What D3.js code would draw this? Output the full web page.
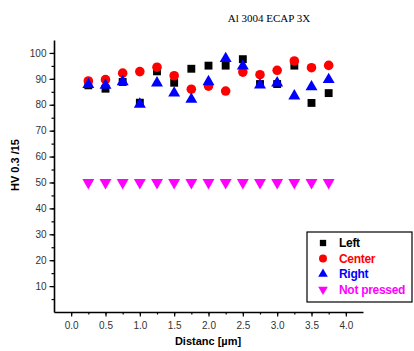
<!DOCTYPE html>
<html>
<head>
<meta charset="utf-8">
<script src="https://cdn.jsdelivr.net/npm/d3@7"></script>
<style>
  body { margin: 0; background: #fff; }
  svg { display: block; font-family: "Liberation Sans", Arial, sans-serif; }
</style>
</head>
<body>
<svg id="chart"></svg>
<script>
// distance positions (µm)
const distances = [0.25, 0.5, 0.75, 1.0, 1.25, 1.5, 1.75, 2.0, 2.25, 2.5, 2.75, 3.0, 3.25, 3.5, 3.75];

// hardness values
const leftVals = [87.5, 86.2, 88.8, 80.8, 92.9, 88.5, 93.9, 95.1, 95.1, 97.6, 88.0, 88.0, 95.1, 80.7, 84.5];
const centerVals = [89.2, 89.7, 92.2, 92.8, 94.5, 91.2, 86.0, 87.2, 85.3, 92.6, 91.6, 93.3, 96.9, 94.3, 95.2];
const rightVals = [87.8, 87.5, 88.9, 80.2, 88.4, 84.5, 82.1, 88.9, 97.8, 94.9, 87.6, 88.4, 83.4, 86.9, 89.7];
const notPressedVals = [50, 50, 50, 50, 50, 50, 50, 50, 50, 50, 50, 50, 50, 50, 50];

const xTicks = [0.0, 0.5, 1.0, 1.5, 2.0, 2.5, 3.0, 3.5, 4.0];
const yTicks = [10, 20, 30, 40, 50, 60, 70, 80, 90, 100];

const seriesNames = ["Left", "Center", "Right", "Not pressed"];
const seriesColors = ["#000000", "#ff0000", "#0000ff", "#ff00ff"];
const seriesSymbols = [d3.symbolSquare, d3.symbolCircle, d3.symbolTriangle, d3.symbolTriangle];

const series = [leftVals, centerVals, rightVals, notPressedVals].map((vals, i) => ({
	name: seriesNames[i],
	color: seriesColors[i],
	symbol: seriesSymbols[i],
	flip: i === 3,
	values: vals.map((v, j) => ({ x: distances[j], y: v }))
}));

const W = 414, H = 351;
const margin = { top: 40, right: 51, bottom: 39, left: 54 };
const width = W - margin.left - margin.right,
	height = H - margin.top - margin.bottom;

const svg = d3.select("#chart")
	.attr("width", W)
	.attr("height", H);

const g = svg.append("g")
	.attr("transform", `translate(${margin.left}, ${margin.top})`);

const x = d3.scaleLinear().domain([-0.25, 4.25]).range([0, width]);
const y = d3.scaleLinear().domain([0, 105]).range([height, 0]);

// minor ticks first
g.append("g")
	.attr("transform", `translate(0, ${height})`)
	.call(d3.axisBottom(x).tickValues(d3.range(0, 4.01, 0.25)).tickSize(2.5).tickFormat(""))
	.call(a => a.select(".domain").remove());
g.append("g")
	.call(d3.axisLeft(y).tickValues(d3.range(5, 101, 5)).tickSize(2.5).tickFormat(""))
	.call(a => a.select(".domain").remove());

// X axis
const xAxis = g.append("g")
	.attr("transform", `translate(0, ${height})`)
	.call(d3.axisBottom(x).tickValues(xTicks).tickSize(4.5).tickSizeOuter(0).tickPadding(5).tickFormat(d3.format(".1f")));
xAxis.selectAll("text").attr("font-size", 10).attr("fill", "#333");

// Y axis
const yAxis = g.append("g")
	.call(d3.axisLeft(y).tickValues(yTicks).tickSize(4.5).tickSizeOuter(0).tickPadding(3));
yAxis.selectAll("text").attr("font-size", 10).attr("fill", "#333");

g.selectAll(".domain").attr("stroke-width", 1.6).attr("stroke", "#000");
g.selectAll(".tick line").attr("stroke", "#000").attr("stroke-width", 1.2);

// markers
series.forEach(s => {
	const sym = d3.symbol().type(s.symbol).size(s.symbol === d3.symbolCircle ? 72 : 62);
	g.append("g")
		.selectAll("path")
		.data(s.values)
		.join("path")
		.attr("d", sym)
		.attr("transform", d => `translate(${x(d.x)}, ${y(d.y)})` + (s.flip ? " rotate(180)" : ""))
		.attr("fill", s.color);
});

// title
svg.append("text")
	.attr("x", 269)
	.attr("y", 22)
	.attr("text-anchor", "middle")
	.attr("font-family", "'Liberation Serif', 'Times New Roman', serif")
	.attr("font-size", 11)
	.text("Al 3004 ECAP 3X");

// axis titles
svg.append("text")
	.attr("x", 208)
	.attr("y", 345)
	.attr("text-anchor", "middle")
	.attr("font-size", 11)
	.attr("font-weight", "bold")
	.text("Distanc [µm]");

svg.append("text")
	.attr("transform", "translate(19, 165) rotate(-90)")
	.attr("text-anchor", "middle")
	.attr("font-size", 11)
	.attr("font-weight", "bold")
	.text("HV 0.3 /15");

// legend
const legend = svg.append("g").attr("transform", "translate(307, 232)");
legend.append("rect")
	.attr("width", 105)
	.attr("height", 70)
	.attr("fill", "#fff")
	.attr("stroke", "#000")
	.attr("stroke-width", 1.2);

series.forEach((s, i) => {
	const row = legend.append("g").attr("transform", `translate(0, ${11 + i * 15.5})`);
	row.append("path")
		.attr("d", d3.symbol().type(s.symbol).size(s.symbol === d3.symbolCircle ? 50 : 40))
		.attr("transform", `translate(16, 0)` + (s.flip ? " rotate(180)" : ""))
		.attr("fill", s.color);
	row.append("text")
		.attr("x", 32)
		.attr("dy", "0.36em")
		.attr("font-size", 12)
		.attr("font-weight", "bold")
		.attr("letter-spacing", -0.3)
		.attr("fill", s.color)
		.text(s.name);
});
</script>
</body>
</html>
